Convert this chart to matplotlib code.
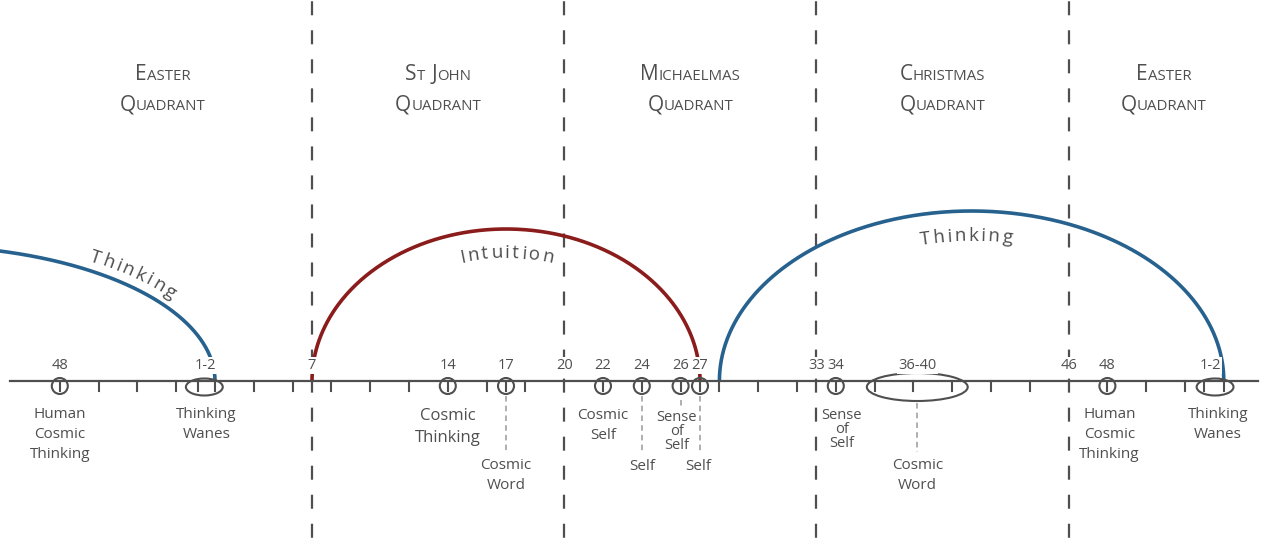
import numpy as np
import matplotlib
matplotlib.use("Agg")
import matplotlib.pyplot as plt
from matplotlib.patches import Ellipse
from matplotlib.offsetbox import TextArea, HPacker, DrawingArea, AnnotationBbox
from matplotlib.font_manager import FontProperties

plt.rcParams["font.family"] = ["Open Sans", "DejaVu Sans"]
plt.rcParams["lines.scale_dashes"] = False

# --- data -------------------------------------------------------------
quadrant_names = ["EASTER", "ST JOHN", "MICHAELMAS", "CHRISTMAS", "EASTER"]
quadrant_centres = [-0.7, 13.5, 26.5, 39.5, 50.9]
quadrant_bounds = [7, 20, 33, 46]

tick_weeks = [-6, -4, -2, 0, 1.1, 2, 4, 6, 8, 10, 12, 14, 16, 17, 18,
              22, 24, 26, 27, 28, 30, 32, 34, 36, 38, 40, 42, 44,
              48, 50, 52, 53, 54]
marker_weeks = [-6, 14, 17, 22, 24, 26, 27, 34, 48]
range_centres = [1.45, 38.2, 53.55]
range_widths = [1.9, 5.2, 1.9]

week_label_pos = [-6, 1.5, 7, 14, 17, 20, 22, 24, 26, 27, 33, 34, 38.2, 46, 48, 53.3]
week_label_text = ["48", "1-2", "7", "14", "17", "20", "22", "24", "26", "27",
                   "33", "34", "36-40", "46", "48", "1-2"]

note_pos = [-6, 1.55, 14, 17, 22, 24, 25.8, 26.9, 34.3, 38.2, 48.1, 53.7]
note_text = ["Human\nCosmic\nThinking", "Thinking\nWanes", "Cosmic\nThinking",
             "Cosmic\nWord", "Cosmic\nSelf", "Self", "Sense\nof\nSelf", "Self",
             "Sense\nof\nSelf", "Cosmic\nWord", "Human\nCosmic\nThinking",
             "Thinking\nWanes"]

connector_weeks = [17, 24, 26, 27, 38.2]

arc_names = ["Thinking", "Intuition", "Thinking"]
arc_start = [-28.4, 7, 28]
arc_end = [2, 27, 54]
arc_label_at = [-2.5, 17.05, 40.7]

# --- layout -----------------------------------------------------------
PX = 19.4            # pixels per week
W, H = 1261, 551
AXIS_Y = 381
GREY = "#4f4f4f"
BLUE = "#27628f"
RED = "#8b1c1c"

note_base = [418, 418, 420, 469, 419, 470, 421, 470, 419, 469, 418, 418]
note_step = [20, 20, 22, 20, 20, 0, 14, 0, 14, 20, 20, 20]
note_size = [11, 11, 12, 11, 11, 11, 10.5, 11, 10.5, 11, 11, 11]
connector_y = [(396, 450), (396, 452), (400, 409), (396, 452), (403, 452)]
range_heights = [17, 28, 17]
arc_heights = [135, 152, 170]
arc_colors = [BLUE, RED, BLUE]
arc_offsets = [9, -29, -30]

fig = plt.figure(figsize=(W / 100, H / 100), dpi=100)
ax = fig.add_axes([0, 0, 1, 1])
ax.set_xlim(7 - 312 / PX, 7 + (W - 312) / PX)
ax.set_ylim(H, 0)
ax.axis("off")

# quadrant separators
for b in quadrant_bounds:
    ax.plot([b, b], [0, H], color=GREY, lw=1.6,
            linestyle=(20, (10.1, 10.8)), zorder=1)

# main time axis
ax.plot([7 - 302 / PX, 7 + 946 / PX], [AXIS_Y, AXIS_Y], color=GREY, lw=1.6, zorder=3)
for t in tick_weeks:
    ax.plot([t, t], [AXIS_Y, AXIS_Y + 10], color=GREY, lw=1.5, zorder=3)

for m in marker_weeks:
    ax.add_patch(Ellipse((m, AXIS_Y + 5), 16 / PX, 16, fill=False,
                         ec=GREY, lw=1.5, zorder=3))
for c, w, h in zip(range_centres, range_widths, range_heights):
    ax.add_patch(Ellipse((c, AXIS_Y + 6), w, h, fill=False, ec=GREY, lw=1.5, zorder=3))

for x, (y0, y1) in zip(connector_weeks, connector_y):
    ax.plot([x, x], [y0, y1], color="#9a9a9a", lw=1.1,
            linestyle=(0, (4, 3)), zorder=2)

# arcs
for s, e, h, col in zip(arc_start, arc_end, arc_heights, arc_colors):
    t = np.linspace(0, np.pi, 400)
    cx, a = (s + e) / 2, (e - s) / 2
    ax.plot(cx + a * np.cos(t), AXIS_Y - h * np.sin(t), color=col, lw=2.6,
            zorder=2, solid_capstyle="butt")

# week numbers (white behind so arcs/dashes break around them)
for p, s in zip(week_label_pos, week_label_text):
    ax.text(p, AXIS_Y - 12, s, ha="center", va="baseline", fontsize=10.5,
            color=GREY, zorder=4,
            bbox=dict(fc="white", ec="none", pad=0.8))

# notes under the axis
for p, s, b, st, fs in zip(note_pos, note_text, note_base, note_step, note_size):
    for i, line in enumerate(s.split("\n")):
        ax.text(p, b + i * st, line, ha="center", va="baseline",
                fontsize=fs, color=GREY, zorder=4)

# quadrant headings in small caps
def small_caps(word_line, big=15, small=10.8):
    kids = []
    for wi, word in enumerate(word_line.split(" ")):
        if wi:
            kids.append(DrawingArea(5, 0))
        kids.append(TextArea(word[0], textprops=dict(fontsize=big, color=GREY)))
        if len(word) > 1:
            kids.append(TextArea(word[1:], textprops=dict(fontsize=small, color=GREY)))
    return HPacker(children=kids, align="baseline", pad=0, sep=0)

for c, name in zip(quadrant_centres, quadrant_names):
    for y, txt in ((75, name), (105, "QUADRANT")):
        ab = AnnotationBbox(small_caps(txt), (c, y), xycoords="data",
                            frameon=False, box_alignment=(0.5, 0.5), pad=0)
        ax.add_artist(ab)

# text that follows the arcs
fig.canvas.draw()
renderer = fig.canvas.get_renderer()
fp = FontProperties(family=["Open Sans", "DejaVu Sans"], size=13.5)
track = 2.4

def width(s):
    if not s:
        return 0.0
    return renderer.get_text_width_height_descent(s, fp, ismath=False)[0]

for name, s, e, h, col, off, at in zip(arc_names, arc_start, arc_end, arc_heights,
                                       arc_colors, arc_offsets, arc_label_at):
    cx, a = (s + e) / 2, (e - s) / 2
    t = np.linspace(np.pi, 0, 3000)
    pts = ax.transData.transform(np.column_stack([cx + a * np.cos(t),
                                                  AXIS_Y - h * np.sin(t)]))
    d = np.gradient(pts, axis=0)
    d /= np.hypot(d[:, 0], d[:, 1])[:, None]
    nrm = np.column_stack([-d[:, 1], d[:, 0]])
    q = pts + off * nrm
    seg = np.hypot(*np.diff(q, axis=0).T)
    sl = np.concatenate([[0], np.cumsum(seg)])
    centre_x = ax.transData.transform([(at, 0)])[0, 0]
    k = np.argmin(np.abs(pts[:, 0] - centre_x))
    total = width(name) + track * (len(name) - 1)
    s0 = sl[k] - total / 2
    for i, ch in enumerate(name):
        mid = s0 + (width(name[:i]) + width(name[:i + 1])) / 2 + track * i
        j = np.clip(np.searchsorted(sl, mid), 0, len(sl) - 1)
        ang = np.degrees(np.arctan2(d[j, 1], d[j, 0]))
        xd, yd = ax.transData.inverted().transform(q[j])
        ax.text(xd, yd, ch, fontproperties=fp, color=GREY, ha="center",
                va="baseline", rotation=ang, rotation_mode="anchor", zorder=4)

fig.savefig("out.png", dpi=100, facecolor="white")
